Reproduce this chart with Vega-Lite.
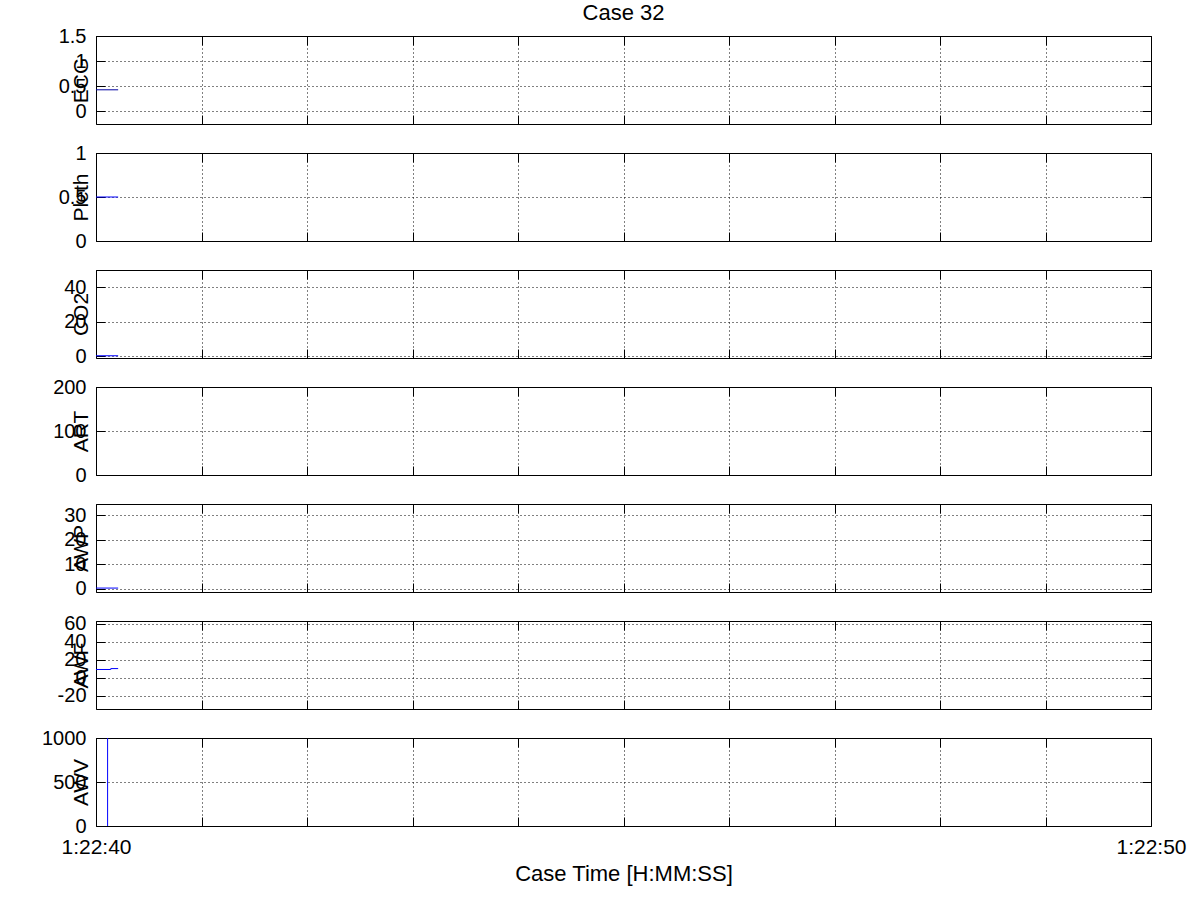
{
  "$schema": "https://vega.github.io/schema/vega-lite/v6.json",
  "padding": {"left": 41, "top": 1, "right": 5, "bottom": 5},
  "bounds": "flush",
  "spacing": 29,
  "title": {"text": "Case 32", "fontSize": 22, "fontWeight": "normal", "font": "Liberation Sans", "color": "black", "offset": 1, "anchor": "middle", "frame": "group"},
  "datasets": {
    "ecg": [{"t": 0, "v": 0.43}, {"t": 0.21, "v": 0.43}],
    "pleth": [{"t": 0, "v": 0.5}, {"t": 0.21, "v": 0.5}],
    "co2": [{"t": 0, "v": 0.3}, {"t": 0.21, "v": 0.3}],
    "art": [],
    "awp": [{"t": 0, "v": 0.3}, {"t": 0.21, "v": 0.3}],
    "awf": [{"t": 0, "v": 9}, {"t": 0.14, "v": 9}, {"t": 0.14, "v": 10}, {"t": 0.21, "v": 10}],
    "awv": [{"t": 0.11, "v": 0}, {"t": 0.11, "v": 1000}]
  },
  "vconcat": [
    {
      "width": 1055, "height": 88,
      "data": {"name": "ecg"},
      "resolve": {"axis": {"x": "independent", "y": "independent"}},
      "layer": [
        {
          "mark": {"type": "line", "color": "#0000a0", "strokeWidth": 1, "clip": true},
          "encoding": {
            "x": {"field": "t", "type": "quantitative", "scale": {"domain": [0, 10], "nice": false}, "axis": {"values": [0,1,2,3,4,5,6,7,8,9,10], "labels": false, "title": null}},
            "y": {"field": "v", "type": "quantitative", "scale": {"domain": [-0.25, 1.5], "nice": false, "zero": false}, "axis": {"values": [0, 0.5, 1, 1.5], "title": "ECG"}}
          }
        },
        {
          "mark": {"type": "line", "opacity": 0},
          "encoding": {
            "x": {"field": "t", "type": "quantitative", "axis": {"orient": "top", "values": [0,1,2,3,4,5,6,7,8,9,10], "labels": false, "grid": false, "title": null}},
            "y": {"field": "v", "type": "quantitative", "axis": {"orient": "right", "values": [0, 0.5, 1, 1.5], "labels": false, "grid": false, "title": null}}
          }
        }
      ]
    },
    {
      "width": 1055, "height": 88,
      "data": {"name": "pleth"},
      "resolve": {"axis": {"x": "independent", "y": "independent"}},
      "layer": [
        {
          "mark": {"type": "line", "color": "#0000ff", "strokeWidth": 1, "clip": true},
          "encoding": {
            "x": {"field": "t", "type": "quantitative", "scale": {"domain": [0, 10], "nice": false}, "axis": {"values": [0,1,2,3,4,5,6,7,8,9,10], "labels": false, "title": null}},
            "y": {"field": "v", "type": "quantitative", "scale": {"domain": [0, 1], "nice": false, "zero": false}, "axis": {"values": [0, 0.5, 1], "title": "Pleth"}}
          }
        },
        {
          "mark": {"type": "line", "opacity": 0},
          "encoding": {
            "x": {"field": "t", "type": "quantitative", "axis": {"orient": "top", "values": [0,1,2,3,4,5,6,7,8,9,10], "labels": false, "grid": false, "title": null}},
            "y": {"field": "v", "type": "quantitative", "axis": {"orient": "right", "values": [0, 0.5, 1], "labels": false, "grid": false, "title": null}}
          }
        }
      ]
    },
    {
      "width": 1055, "height": 88,
      "data": {"name": "co2"},
      "resolve": {"axis": {"x": "independent", "y": "independent"}},
      "layer": [
        {
          "mark": {"type": "line", "color": "#0000ff", "strokeWidth": 1, "clip": true},
          "encoding": {
            "x": {"field": "t", "type": "quantitative", "scale": {"domain": [0, 10], "nice": false}, "axis": {"values": [0,1,2,3,4,5,6,7,8,9,10], "labels": false, "title": null}},
            "y": {"field": "v", "type": "quantitative", "scale": {"domain": [-1, 50], "nice": false, "zero": false}, "axis": {"values": [0, 20, 40], "title": "CO2"}}
          }
        },
        {
          "mark": {"type": "line", "opacity": 0},
          "encoding": {
            "x": {"field": "t", "type": "quantitative", "axis": {"orient": "top", "values": [0,1,2,3,4,5,6,7,8,9,10], "labels": false, "grid": false, "title": null}},
            "y": {"field": "v", "type": "quantitative", "axis": {"orient": "right", "values": [0, 20, 40], "labels": false, "grid": false, "title": null}}
          }
        }
      ]
    },
    {
      "width": 1055, "height": 88,
      "data": {"name": "art"},
      "resolve": {"axis": {"x": "independent", "y": "independent"}},
      "layer": [
        {
          "mark": {"type": "line", "color": "#0000ff", "strokeWidth": 1, "clip": true},
          "encoding": {
            "x": {"field": "t", "type": "quantitative", "scale": {"domain": [0, 10], "nice": false}, "axis": {"values": [0,1,2,3,4,5,6,7,8,9,10], "labels": false, "title": null}},
            "y": {"field": "v", "type": "quantitative", "scale": {"domain": [0, 200], "nice": false, "zero": false}, "axis": {"values": [0, 100, 200], "title": "ART"}}
          }
        },
        {
          "mark": {"type": "line", "opacity": 0},
          "encoding": {
            "x": {"field": "t", "type": "quantitative", "axis": {"orient": "top", "values": [0,1,2,3,4,5,6,7,8,9,10], "labels": false, "grid": false, "title": null}},
            "y": {"field": "v", "type": "quantitative", "axis": {"orient": "right", "values": [0, 100, 200], "labels": false, "grid": false, "title": null}}
          }
        }
      ]
    },
    {
      "width": 1055, "height": 88,
      "data": {"name": "awp"},
      "resolve": {"axis": {"x": "independent", "y": "independent"}},
      "layer": [
        {
          "mark": {"type": "line", "color": "#0000ff", "strokeWidth": 1, "clip": true},
          "encoding": {
            "x": {"field": "t", "type": "quantitative", "scale": {"domain": [0, 10], "nice": false}, "axis": {"values": [0,1,2,3,4,5,6,7,8,9,10], "labels": false, "title": null}},
            "y": {"field": "v", "type": "quantitative", "scale": {"domain": [-1.3, 34.6], "nice": false, "zero": false}, "axis": {"values": [0, 10, 20, 30], "title": "AWP"}}
          }
        },
        {
          "mark": {"type": "line", "opacity": 0},
          "encoding": {
            "x": {"field": "t", "type": "quantitative", "axis": {"orient": "top", "values": [0,1,2,3,4,5,6,7,8,9,10], "labels": false, "grid": false, "title": null}},
            "y": {"field": "v", "type": "quantitative", "axis": {"orient": "right", "values": [0, 10, 20, 30], "labels": false, "grid": false, "title": null}}
          }
        }
      ]
    },
    {
      "width": 1055, "height": 88,
      "data": {"name": "awf"},
      "resolve": {"axis": {"x": "independent", "y": "independent"}},
      "layer": [
        {
          "mark": {"type": "line", "color": "#0000ff", "strokeWidth": 1, "clip": true},
          "encoding": {
            "x": {"field": "t", "type": "quantitative", "scale": {"domain": [0, 10], "nice": false}, "axis": {"values": [0,1,2,3,4,5,6,7,8,9,10], "labels": false, "title": null}},
            "y": {"field": "v", "type": "quantitative", "scale": {"domain": [-35, 63], "nice": false, "zero": false}, "axis": {"values": [-20, 0, 20, 40, 60], "title": "AWF"}}
          }
        },
        {
          "mark": {"type": "line", "opacity": 0},
          "encoding": {
            "x": {"field": "t", "type": "quantitative", "axis": {"orient": "top", "values": [0,1,2,3,4,5,6,7,8,9,10], "labels": false, "grid": false, "title": null}},
            "y": {"field": "v", "type": "quantitative", "axis": {"orient": "right", "values": [-20, 0, 20, 40, 60], "labels": false, "grid": false, "title": null}}
          }
        }
      ]
    },
    {
      "width": 1055, "height": 88,
      "data": {"name": "awv"},
      "resolve": {"axis": {"x": "independent", "y": "independent"}},
      "layer": [
        {
          "mark": {"type": "line", "color": "#0000ff", "strokeWidth": 1, "clip": true},
          "encoding": {
            "x": {"field": "t", "type": "quantitative", "scale": {"domain": [0, 10], "nice": false}, "axis": {"values": [0,1,2,3,4,5,6,7,8,9,10], "labelExpr": "datum.value == 0 ? '1:22:40' : (datum.value == 10 ? '1:22:50' : '')", "labelFontSize": 21, "labelPadding": 19, "title": "Case Time [H:MM:SS]", "titleFontSize": 22, "titlePadding": 6}},
            "y": {"field": "v", "type": "quantitative", "scale": {"domain": [0, 1000], "nice": false, "zero": false}, "axis": {"values": [0, 500, 1000], "title": "AWV"}}
          }
        },
        {
          "mark": {"type": "line", "opacity": 0},
          "encoding": {
            "x": {"field": "t", "type": "quantitative", "axis": {"orient": "top", "values": [0,1,2,3,4,5,6,7,8,9,10], "labels": false, "grid": false, "title": null}},
            "y": {"field": "v", "type": "quantitative", "axis": {"orient": "right", "values": [0, 500, 1000], "labels": false, "grid": false, "title": null}}
          }
        }
      ]
    }
  ],
  "config": {
    "font": "Liberation Sans",
    "view": {"stroke": "black", "strokeWidth": 1},
    "axis": {
      "domain": false,
      "grid": true,
      "gridColor": "black",
      "gridDash": [1, 3],
      "gridOpacity": 1,
      "gridWidth": 1,
      "ticks": true,
      "tickColor": "black",
      "tickSize": -9,
      "tickWidth": 1,
      "labelColor": "black",
      "labelFont": "Liberation Sans",
      "labelFontSize": 20,
      "labelPadding": 16,
      "labelOverlap": false,
      "labelBound": false,
      "labelFlush": false,
      "titleFont": "Liberation Sans",
      "titleFontSize": 21,
      "titleFontWeight": "normal",
      "titleColor": "black"
    },
    "axisY": {"labelExpr": "'' + datum.value", "labelPadding": 19, "titleX": -15, "titleY": 44, "titleBaseline": "middle", "titleAngle": -90, "titleAlign": "center"}
  }
}
